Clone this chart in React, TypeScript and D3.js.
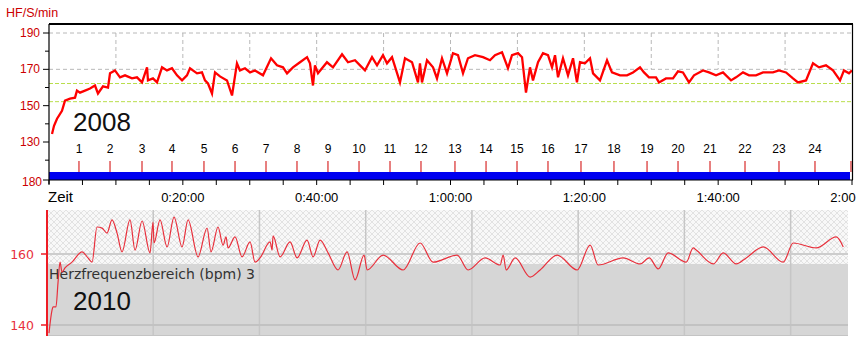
import React from 'react';
import * as d3 from 'd3';

// ---------- 2008 (top panel) ----------
// [minutes, bpm]
const hr2008: [number, number][] = [
  [0.45,134.4],[0.75,138.9],[1.2,142.8],[1.94,147.2],[2.39,152.8],[3.14,153.9],[3.89,154.4],[4.18,158.3],
  [4.63,157.2],[5.38,158.3],[6.13,159.4],[6.87,161.1],[7.32,156.7],[8.07,160.6],[8.82,160.0],[9.12,167.8],
  [9.86,169.4],[10.61,165.6],[11.36,166.7],[12.4,165.0],[13.15,165.6],[13.9,162.8],[14.65,171.1],[14.79,163.9],
  [15.54,165.0],[16.14,162.8],[16.89,171.1],[17.63,169.4],[18.38,170.6],[19.13,166.7],[19.88,163.9],[20.62,166.7],
  [21.07,170.6],[22.12,167.8],[22.86,168.3],[23.31,163.9],[23.76,162.2],[24.36,156.7],[24.81,168.3],[25.55,166.1],
  [26.6,163.9],[27.35,155.6],[28.09,173.3],[28.54,169.4],[29.29,170.6],[30.04,168.3],[30.78,169.4],[31.98,166.7],
  [33.18,176.1],[34.07,172.2],[34.97,171.1],[35.57,167.8],[36.46,171.1],[37.51,173.9],[38.56,176.7],[39.0,173.3],
  [39.45,161.1],[39.75,172.2],[40.2,167.8],[41.54,173.9],[42.44,171.1],[43.79,178.3],[44.68,173.9],[45.73,175.0],
  [46.48,172.2],[47.22,169.4],[48.27,176.7],[49.02,172.2],[49.91,177.8],[50.51,173.3],[51.26,176.7],[52.45,162.8],
  [53.2,176.1],[54.25,173.9],[55.14,162.8],[55.44,173.3],[55.74,162.8],[56.49,175.0],[57.39,171.1],[57.98,165.0],
  [58.73,176.1],[59.48,167.8],[60.37,178.9],[61.12,177.8],[61.87,167.8],[62.61,176.1],[63.66,177.8],[64.86,176.7],
  [65.9,175.0],[66.65,177.8],[67.7,179.4],[68.59,170.6],[69.19,177.8],[70.09,178.9],[70.69,176.7],[71.28,157.2],
  [71.88,171.1],[72.33,163.9],[73.08,173.9],[73.82,178.9],[74.57,177.8],[75.17,171.1],[75.62,177.8],[76.07,165.6],
  [76.81,176.1],[77.56,166.7],[78.31,176.1],[78.9,162.8],[79.35,173.9],[80.1,173.3],[80.85,176.1],[81.3,167.8],
  [82.34,163.9],[83.39,175.0],[84.13,168.3],[85.33,166.7],[86.38,166.7],[87.27,168.3],[88.32,171.1],[88.92,168.3],
  [89.66,165.6],[90.71,165.6],[91.16,162.8],[92.2,165.0],[93.25,165.0],[94.0,168.9],[94.74,168.3],[95.64,162.8],
  [96.39,166.7],[97.73,169.4],[98.63,168.3],[99.68,166.7],[100.72,168.3],[101.92,163.9],[102.67,165.6],[103.71,168.3],
  [104.61,166.7],[105.65,166.7],[106.7,168.3],[108.19,168.3],[109.09,169.4],[110.14,168.3],[111.18,165.0],[111.93,162.8],
  [113.13,163.9],[114.17,173.3],[115.07,171.1],[116.11,172.2],[117.16,169.4],[118.21,163.9],[118.8,169.4],[119.55,167.8],
  [120.0,169.4],
];

const lapTimes = [4.48,9.12,13.9,18.38,23.16,27.8,32.43,37.06,41.69,46.33,50.96,55.59,60.67,65.31,69.94,74.57,79.5,84.43,89.37,94.0,98.78,104.01,109.09,114.47,119.85];
const lapLabels = ['1','2','3','4','5','6','7','8','9','10','11','12','13','14','15','16','17','18','19','20','21','22','23','24',''];

const yTicks2008 = [190,180,170,160,150,140,130,120];
const yLabels2008 = [190,170,150,130];
const yGrid2008 = [190,170];
const zoneLines2008 = [162.2,152.2];
const timeTicks2008 = d3.range(0, 121, 5);
const timeGrid2008 = [10,20,30,40,50,60,70,80,90,100,110];
const timeLabelMinutes = [20,40,60,80,100,120];
const timeLabels = ['0:20:00','0:40:00','1:00:00','1:20:00','1:40:00','2:00:00'];
const stripAxisLabel = '180';

// ---------- 2010 (bottom panel) ----------
const hr2010: [number, number][] = [
  [0.28,137.7],[0.71,144.2],[0.85,145.1],[1.27,145.1],[1.55,151.8],[1.84,157.7],[2.12,154.9],[2.54,156.1],
  [3.53,157.7],[4.94,160.6],[5.79,158.9],[6.36,157.7],[7.06,167.6],[7.77,167.3],[8.47,165.9],[9.18,169.6],
  [9.89,165.9],[10.59,160.6],[11.72,169.6],[12.43,161.1],[13.42,169.3],[14.55,160.3],[14.97,169.0],[15.11,163.1],
  [15.96,169.6],[16.95,162.0],[17.94,170.4],[19.07,162.0],[19.92,169.6],[21.33,159.2],[22.6,167.3],[23.16,160.6],
  [24.15,167.6],[24.86,162.5],[25.28,164.8],[25.56,161.7],[26.55,164.8],[27.54,159.2],[28.67,163.4],[29.38,157.7],
  [30.08,158.9],[31.5,163.4],[31.78,161.1],[31.92,165.1],[32.91,159.2],[34.32,163.4],[35.31,158.9],[36.72,163.9],
  [37.57,159.2],[38.56,163.9],[39.69,160.3],[41.1,155.5],[42.37,160.6],[43.5,152.7],[44.77,159.7],[45.2,155.5],
  [47.46,159.7],[50.28,155.5],[52.68,163.1],[54.52,157.7],[57.91,159.7],[59.46,155.5],[61.86,158.9],[63.98,156.9],
  [64.41,159.7],[64.83,155.5],[66.1,158.9],[68.22,153.5],[69.63,155.5],[72.03,159.7],[74.86,155.5],[76.69,162.5],
  [77.82,156.9],[81.35,158.9],[83.76,157.2],[85.03,158.9],[86.3,155.8],[87.71,160.3],[90.25,157.7],[91.24,161.7],
  [91.67,161.1],[94.07,157.2],[95.48,160.3],[97.31,157.2],[98.73,158.9],[101.13,162.0],[103.95,157.7],[105.37,163.1],
  [108.61,161.7],[111.44,164.8],[112.43,162.0],
];
const yTicks2010 = [160,140];
const timeGrid2010 = [15,30,45,60,75,90,105];
const zoneUpper2010 = 157.2;
const zoneLabel = 'Herzfrequenzbereich (bpm) 3';

const ARIAL = '"Liberation Sans", Arial, sans-serif';
const DEJAVU = '"DejaVu Sans", Verdana, sans-serif';

export default function App() {
  // top panel
  const left = 49, right = 852, frameTop = 24, axisY = 180, stripTop = 172;
  const xTop = d3.scaleLinear().domain([0, 120]).range([left, right]);
  const yTop = d3.scaleLinear().domain([130, 190]).range([142, 33]);
  const line2008 = d3.line<[number, number]>().x(d => xTop(d[0])).y(d => yTop(d[1])).curve(d3.curveLinear);

  // bottom panel
  const bLeft = 47, bRight = 848, bTop = 210, bBottom = 336;
  const xBot = d3.scaleLinear().domain([0, 113.1]).range([bLeft, bRight]);
  const yBot = d3.scaleLinear().domain([140, 160]).range([325, 254]);
  const line2010 = d3.line<[number, number]>().x(d => xBot(d[0])).y(d => yBot(d[1])).curve(d3.curveMonotoneX);
  const zoneY = yBot(zoneUpper2010);

  return (
    <div style={{ position: 'absolute', left: 0, top: 0, width: 856, height: 360, overflow: 'hidden' }}>
      <svg width={856} height={360} style={{ display: 'block', background: '#fff' }}>
        <defs>
          <pattern id="hatch" width={6} height={6} patternUnits="userSpaceOnUse">
            <rect width={6} height={6} fill="#f8f8f8" />
            <path d="M0,0L6,6M6,0L0,6" stroke="#e2e2e2" strokeWidth={1} />
          </pattern>
          <clipPath id="topClip">
            <rect x={left} y={frameTop} width={right - left} height={stripTop - frameTop} />
          </clipPath>
          <clipPath id="botClip">
            <rect x={bLeft} y={bTop} width={bRight - bLeft} height={bBottom - bTop} />
          </clipPath>
        </defs>

        {/* ===== TOP PANEL ===== */}
        <text x={6} y={17} fontFamily={ARIAL} fontSize={12.5} fill="#cc0000">HF/S/min</text>

        {yGrid2008.map(v => (
          <line key={'hg' + v} x1={left} x2={right} y1={yTop(v)} y2={yTop(v)} stroke="#b8b8b8" strokeDasharray="4 3" />
        ))}
        {timeGrid2008.map(t => (
          <line key={'vg' + t} x1={xTop(t)} x2={xTop(t)} y1={yTop(190)} y2={yTop(170)} stroke="#b8b8b8" strokeDasharray="4 3" />
        ))}
        {zoneLines2008.map(v => (
          <line key={'zl' + v} x1={left} x2={right} y1={yTop(v)} y2={yTop(v)} stroke="#b9de4c" strokeDasharray="4 2" />
        ))}

        <text x={73} y={131} fontFamily={ARIAL} fontSize={26} fill="#111">2008</text>

        <path d={line2008(hr2008) || ''} fill="none" stroke="#ff0000" strokeWidth={2.3} strokeLinejoin="miter" clipPath="url(#topClip)" />

        {/* laps */}
        {lapTimes.map((t, i) => (
          <g key={'lap' + i}>
            <line x1={xTop(t)} x2={xTop(t)} y1={161} y2={stripTop} stroke="#d00000" strokeWidth={1} />
            <text x={xTop(t)} y={153} textAnchor="middle" fontFamily={ARIAL} fontSize={12} fill="#000">{lapLabels[i]}</text>
          </g>
        ))}
        <rect x={left} y={stripTop} width={xTop(lapTimes[lapTimes.length - 1]) - left - 1} height={axisY - stripTop} fill="#0000f0" />

        {/* frame */}
        <line x1={left} x2={right + 1} y1={frameTop} y2={frameTop} stroke="#000" strokeWidth={2} />
        <line x1={left} x2={left} y1={frameTop} y2={axisY + 4} stroke="#000" strokeWidth={1.2} />
        <line x1={right + 0.5} x2={right + 0.5} y1={frameTop} y2={axisY} stroke="#000" strokeWidth={1.2} />
        <line x1={left} x2={right + 1} y1={axisY} y2={axisY} stroke="#000" strokeWidth={1} />

        {/* y axis */}
        {yTicks2008.map(v => {
          const major = yLabels2008.includes(v);
          return <line key={'yt' + v} x1={left - (major ? 6 : 4)} x2={left} y1={yTop(v)} y2={yTop(v)} stroke="#000" />;
        })}
        {yLabels2008.map(v => (
          <text key={'yl' + v} x={40} y={yTop(v) + 4} textAnchor="end" fontFamily={ARIAL} fontSize={12} fill="#cc0000">{v}</text>
        ))}
        <line x1={left - 6} x2={left} y1={axisY} y2={axisY} stroke="#000" />
        <text x={42} y={186} textAnchor="end" fontFamily={ARIAL} fontSize={12} fill="#cc0000">{stripAxisLabel}</text>

        {/* x axis */}
        {timeTicks2008.map(t => (
          <line key={'xt' + t} x1={xTop(t)} x2={xTop(t)} y1={axisY} y2={axisY + 5} stroke="#000" />
        ))}
        <text x={48} y={202} fontFamily={ARIAL} fontSize={15} fill="#000">Zeit</text>
        {timeLabelMinutes.map((t, i) => (
          <text key={'xl' + t} x={xTop(t)} y={202} textAnchor="middle" fontFamily={ARIAL} fontSize={13} fill="#000">{timeLabels[i]}</text>
        ))}

        {/* ===== BOTTOM PANEL ===== */}
        <rect x={bLeft} y={bTop} width={bRight - bLeft} height={zoneY - bTop} fill="url(#hatch)" />
        <rect x={bLeft} y={zoneY} width={bRight - bLeft} height={bBottom - zoneY} fill="#d6d6d6" />
        {timeGrid2010.map(t => (
          <line key={'bg' + t} x1={xBot(t)} x2={xBot(t)} y1={bTop} y2={bBottom} stroke="#c6c6c6" strokeWidth={1.5} />
        ))}
        <line x1={bLeft} x2={bRight} y1={yBot(160)} y2={yBot(160)} stroke="#cdcdcd" strokeWidth={2} />
        <line x1={bLeft} x2={bRight} y1={yBot(140)} y2={yBot(140)} stroke="#c2c2c2" strokeWidth={2} />
        <line x1={bLeft} x2={bRight} y1={bBottom - 0.5} y2={bBottom - 0.5} stroke="#c4c4c4" strokeWidth={1} />

        <text x={49} y={279} fontFamily={DEJAVU} fontSize={14} fill="#333">{zoneLabel}</text>
        <text x={73} y={310} fontFamily={ARIAL} fontSize={26} fill="#111">2010</text>

        <path d={line2010(hr2010) || ''} fill="none" stroke="#e8303c" strokeWidth={1.2} clipPath="url(#botClip)" />

        <line x1={bLeft} x2={bLeft} y1={bTop} y2={bBottom} stroke="#ee1c24" strokeWidth={2} />
        {yTicks2010.map(v => (
          <g key={'by' + v}>
            <line x1={bLeft - 6} x2={bLeft} y1={yBot(v)} y2={yBot(v)} stroke="#ee1c24" strokeWidth={1.5} />
            <text x={34} y={yBot(v) + 4.5} textAnchor="end" fontFamily={DEJAVU} fontSize={12.5} fill="#e8303c">{v}</text>
          </g>
        ))}
      </svg>
    </div>
  );
}
